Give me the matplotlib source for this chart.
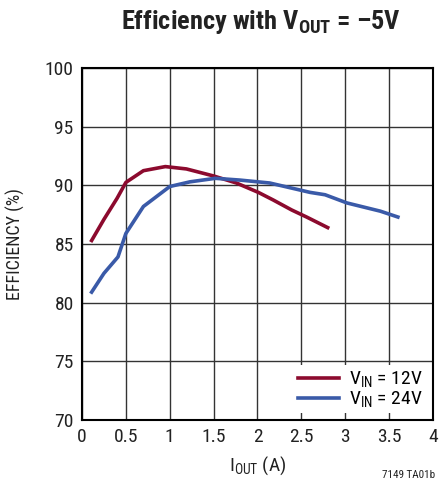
import matplotlib
matplotlib.use("Agg")
import matplotlib.pyplot as plt

# 读图得到的效率曲线数据
iout_12 = [0.11, 0.25, 0.40, 0.50, 0.70, 0.95, 1.19, 1.50, 1.76, 2.01, 2.18, 2.39, 2.56, 2.80]
eff_12 = [85.3, 87.1, 88.9, 90.25, 91.25, 91.6, 91.4, 90.8, 90.2, 89.4, 88.75, 87.9, 87.3, 86.4]
iout_24 = [0.11, 0.25, 0.41, 0.50, 0.70, 1.00, 1.23, 1.52, 1.80, 2.14, 2.37, 2.60, 2.77, 3.02, 3.40, 3.60]
eff_24 = [80.9, 82.5, 83.9, 85.9, 88.2, 89.9, 90.3, 90.6, 90.45, 90.2, 89.8, 89.4, 89.2, 88.5, 87.8, 87.3]

xticks = [0, 0.5, 1, 1.5, 2, 2.5, 3, 3.5, 4]
xticklabels = ['0', '0.5', '1', '1.5', '2', '2.5', '3', '3.5', '4']
yticks = [70, 75, 80, 85, 90, 95, 100]

plt.rcParams['font.family'] = ['Roboto Condensed', 'DejaVu Sans']
plt.rcParams['mathtext.fontset'] = 'custom'
plt.rcParams['mathtext.rm'] = 'Roboto Condensed'
plt.rcParams['mathtext.bf'] = 'Roboto Condensed:bold'

fig = plt.figure(figsize=(4.42, 4.86), dpi=100)
ax = fig.add_axes([0.1855, 0.1358, 0.7941, 0.7242])

ax.plot(iout_12, eff_12, color='#8c0a2e', lw=2.6, label='$\\mathregular{V_{IN}}$ = 12V')
ax.plot(iout_24, eff_24, color='#3a5aa8', lw=2.6, label='$\\mathregular{V_{IN}}$ = 24V')

ax.set_xlim(0, 4)
ax.set_ylim(70, 100)
ax.set_xticks(xticks)
ax.set_xticklabels(xticklabels)
ax.set_yticks(yticks)
ax.tick_params(length=0, labelsize=14, pad=6, colors='#222222')
ax.grid(True, color='#333333', lw=1.0)
ax.set_axisbelow(True)
for s in ax.spines.values():
    s.set_linewidth(1.5)

ax.set_xlabel('$\\mathregular{I_{OUT}}$ (A)', fontsize=14, labelpad=6, color='#222222')
ax.set_ylabel('EFFICIENCY (%)', fontsize=13, labelpad=14, color='#222222')

leg = ax.legend(loc='lower right', fontsize=14, frameon=True, fancybox=False,
                edgecolor='none', facecolor='white', framealpha=1,
                handlelength=2.1, borderpad=0.2, labelspacing=0.0, handletextpad=0.5,
                borderaxespad=0.35)

fig.text(0.59, 0.955, 'Efficiency with $\\mathbf{V_{OUT}}$ = \u20135V', ha='center', va='center',
         fontsize=19, fontweight='bold', color='#222222')
fig.text(0.985, 0.012, '7149 TA01b', ha='right', va='bottom', fontsize=8, color='#222222')

fig.savefig('out.png', dpi=100)
